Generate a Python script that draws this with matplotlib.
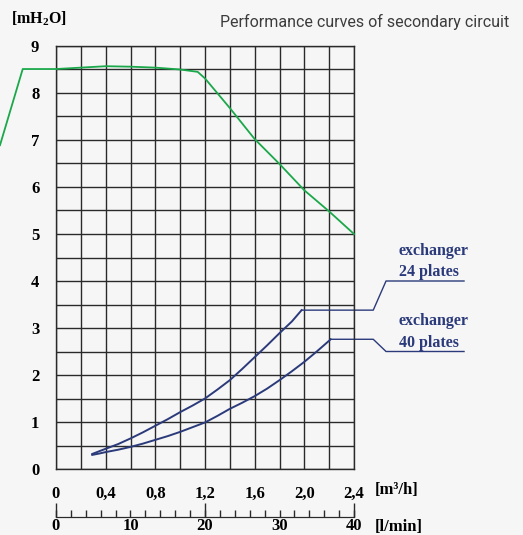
import numpy as np
import matplotlib
matplotlib.use("Agg")
from matplotlib import pyplot as plt

plt.rcParams['mathtext.fontset'] = 'custom'
plt.rcParams['mathtext.rm'] = 'Liberation Serif:bold'

# pump curve (green), flow in m3/h, head in mH2O
pump_q = [-0.451, -0.268, 0.0, 0.2, 0.4, 0.6, 0.8, 1.0, 1.141, 1.2, 1.4, 1.6, 1.8, 2.0, 2.2, 2.4]
pump_h = [6.89, 8.51, 8.51, 8.54, 8.57, 8.56, 8.54, 8.50, 8.45, 8.31, 7.68, 7.02, 6.49, 5.93, 5.48, 5.0]

# exchanger 24 plates
ex24_q = [0.292, 0.35, 0.4, 0.5, 0.6, 0.7, 0.8, 0.9, 1.0, 1.1, 1.2, 1.3, 1.4, 1.5, 1.6, 1.7, 1.8, 1.9, 1.978]
ex24_h = [0.32, 0.38, 0.43, 0.53, 0.65, 0.78, 0.92, 1.06, 1.21, 1.35, 1.50, 1.69, 1.89, 2.13, 2.38, 2.63, 2.89, 3.14, 3.38]

# exchanger 40 plates
ex40_q = [0.292, 0.35, 0.4, 0.5, 0.6, 0.7, 0.8, 0.9, 1.0, 1.1, 1.2, 1.3, 1.4, 1.5, 1.6, 1.7, 1.8, 1.9, 2.0, 2.1, 2.2, 2.212]
ex40_h = [0.30, 0.33, 0.36, 0.41, 0.47, 0.54, 0.62, 0.70, 0.79, 0.89, 0.99, 1.13, 1.28, 1.41, 1.55, 1.71, 1.89, 2.08, 2.28, 2.50, 2.73, 2.76]

xticks = [0, 0.4, 0.8, 1.2, 1.6, 2.0, 2.4]
xlabels = ['0', '0,4', '0,8', '1,2', '1,6', '2,0', '2,4']
yticks = list(range(10))
lmin_ticks = [0, 10, 20, 30, 40]
lmin_long = [0, 20, 40]

bg = '#f6f6f6'
navy = '#2b3a7a'
green = '#1aa84a'
gridc = '#2a2a2a'
serif = dict(family='Liberation Serif', weight='bold')

fig = plt.figure(figsize=(5.23, 5.35), dpi=100, facecolor=bg)
ax = fig.add_axes([56/523, 66/535, 298/523, 423/535], facecolor=bg)
ax.set_xlim(0, 2.4)
ax.set_ylim(0, 9)

ax.set_xticks(xticks)
ax.set_xticklabels(xlabels, fontsize=12, **serif)
ax.set_xticks(np.arange(0, 2.41, 0.2), minor=True)
ax.set_yticks(yticks)
ax.set_yticklabels([str(v) for v in yticks], fontsize=12, **serif)
ax.set_yticks(np.arange(0, 9.01, 0.5), minor=True)
ax.tick_params(which='both', length=0)
ax.tick_params(axis='x', pad=12)
ax.tick_params(axis='y', pad=12)
ax.grid(which='both', color=gridc, lw=1.0)
for s in ax.spines.values():
    s.set_color(gridc)
    s.set_linewidth(1.0)

ax.plot(pump_q, pump_h, color=green, lw=1.3, clip_on=False, zorder=3)
ax.plot(ex24_q, ex24_h, color=navy, lw=1.4, zorder=3)
ax.plot(ex40_q, ex40_h, color=navy, lw=1.4, zorder=3)

# leader lines to labels
ax.plot([1.978, 2.555, 2.658, 3.286], [3.38, 3.38, 4.0, 4.0], color=navy, lw=1.0, clip_on=False)
ax.plot([2.212, 2.555, 2.658, 3.286], [2.76, 2.76, 2.5, 2.5], color=navy, lw=1.0, clip_on=False)
lab = dict(color=navy, fontsize=11.5, clip_on=False, va='baseline', **serif)
ax.text(2.762, 4.55, 'exchanger', **lab)
ax.text(2.762, 4.11, '24 plates', **lab)
ax.text(2.762, 3.06, 'exchanger', **lab)
ax.text(2.762, 2.60, '40 plates', **lab)

# second flow scale in l/min
conv = (lambda q: q * 1000 / 60, lambda l: l * 60 / 1000)
sec = ax.secondary_xaxis(-0.1135, functions=conv)
sec.set_xticks(lmin_ticks)
sec.set_xticklabels([str(v) for v in lmin_ticks], fontsize=12, **serif)
sec.set_xticks(np.arange(0, 40.1, 2), minor=True)
sec.tick_params(which='major', direction='in', length=5, width=1.0, color=gridc, pad=1)
sec.tick_params(which='minor', direction='in', length=5, width=1.0, color=gridc)
sec.spines['bottom'].set_color(gridc)

sec2 = ax.secondary_xaxis(-0.1135, functions=conv)
sec2.set_xticks(lmin_long)
sec2.set_xticklabels([])
sec2.tick_params(which='major', direction='in', length=10, width=1.0, color=gridc)
sec2.spines['bottom'].set_color(gridc)

fig.text(11/523, 1 - 19/535, r'[mH$_\mathrm{2}$O]', fontsize=11.5, va='center', ha='left', **serif)
fig.text(375/523, 1 - 490/535, '[m³/h]', fontsize=12, va='center', ha='left', **serif)
fig.text(375/523, 1 - 527/535, '[l/min]', fontsize=12, va='center', ha='left', **serif)
fig.text(509/523, 1 - 22/535, 'Performance curves of secondary circuit', fontsize=11.5,
         family='Roboto', color='#3c3c3c', ha='right', va='center')

fig.savefig('out.png', dpi=100, facecolor=bg)
